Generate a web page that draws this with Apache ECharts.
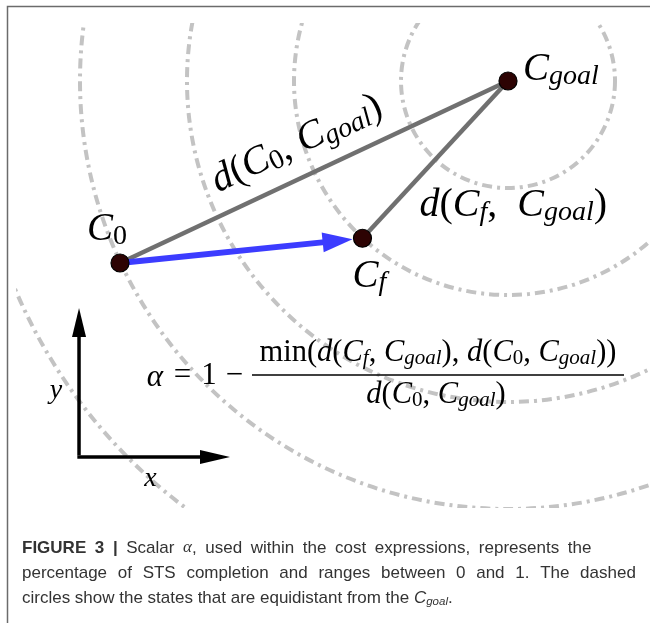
<!DOCTYPE html>
<html>
<head>
<meta charset="utf-8">
<script src="https://cdn.jsdelivr.net/npm/echarts@6.0.0/dist/echarts.min.js"></script>
<style>
  html, body { margin: 0; padding: 0; background: #fff; }
  #chart { width: 650px; height: 623px; }
</style>
</head>
<body>
<div id="chart"></div>
<script>
// Goal-centred frame: one unit is the spacing between neighbouring rings.
const goalPoint = [0, 0];
const startPoint = [-3.626, -1.701];   // C_0
const finalPoint = [-1.360, -1.470];   // C_f
const ringRadii = [1, 2, 3, 4, 5];

// Little x / y reference glyph in the lower-left corner
const axisOrigin = [-4.009, -3.514];
const axisXTip = [-2.598, -3.514];
const axisYTip = [-4.009, -2.121];

// Caption lines (words), typeset with justified-style word gaps
const captionLine1 = ['Scalar', 'α,', 'used', 'within', 'the', 'cost', 'expressions,', 'represents', 'the'];
const captionLine2 = ['percentage', 'of', 'STS', 'completion', 'and', 'ranges', 'between', '0', 'and', '1.', 'The', 'dashed'];
const captionLine3 = ['circles', 'show', 'the', 'states', 'that', 'are', 'equidistant', 'from', 'the'];

const SERIF = '"Liberation Serif", "DejaVu Serif", serif';
const SANS = '"Liberation Sans", Arial, sans-serif';

// rich-text styles for math: italic symbols, upright symbols, italic / upright subscripts
function mathRich(size, subSize, lineH, subH, key) {
  const c = '#000';
  const base = { fontFamily: SERIF, fontWeight: 'normal' };
  return {
    i: Object.assign({}, base, { fontStyle: 'italic', fontSize: size, lineHeight: lineH, verticalAlign: 'middle', [key]: c }),
    u: Object.assign({}, base, { fontStyle: 'normal', fontSize: size, lineHeight: lineH, verticalAlign: 'middle', [key]: c }),
    s: Object.assign({}, base, { fontStyle: 'italic', fontSize: subSize, lineHeight: subH, verticalAlign: 'bottom', [key]: c }),
    n: Object.assign({}, base, { fontStyle: 'normal', fontSize: subSize, lineHeight: subH, verticalAlign: 'bottom', [key]: c })
  };
}
const bigLabelRich = mathRich(39, 28, 41, 17, 'color');
const bigTextRich = mathRich(40, 28, 42, 18, 'fill');
const formulaRich = mathRich(30.5, 21, 32, 16, 'fill');

// caption styles; w1/w2/w3 are the word gaps of each line
const CAP = 17;
const captionRich = {
  b: { fontFamily: SANS, fontWeight: 'bold', fontSize: CAP, lineHeight: 20, verticalAlign: 'middle', fill: '#333' },
  t: { fontFamily: SANS, fontSize: CAP, lineHeight: 20, verticalAlign: 'middle', fill: '#333' },
  g: { fontFamily: SERIF, fontStyle: 'italic', fontSize: CAP, lineHeight: 20, verticalAlign: 'middle', fill: '#333' },
  c: { fontFamily: SANS, fontStyle: 'italic', fontSize: CAP, lineHeight: 20, verticalAlign: 'middle', fill: '#333' },
  s: { fontFamily: SANS, fontStyle: 'italic', fontSize: 11.5, lineHeight: 10, verticalAlign: 'bottom', fill: '#333' },
  w1: { fontFamily: SANS, fontSize: CAP, width: 8.6, lineHeight: 20 },
  w2: { fontFamily: SANS, fontSize: CAP, width: 10.7, lineHeight: 20 },
  w3: { fontFamily: SANS, fontSize: CAP, width: 4.7, lineHeight: 20 }
};
function captionWords(words, gap) {
  return words.map(w => w.startsWith('α') ? '{g|α}{t|' + w.slice(1) + '}' : '{t|' + w + '}').join('{' + gap + '| }');
}

const chart = echarts.init(document.getElementById('chart'), null, { renderer: 'canvas' });

function arrowParts(a, b, tipGap, headLen, headHalf, width, color) {
  const dx = b[0] - a[0], dy = b[1] - a[1];
  const len = Math.hypot(dx, dy);
  const ux = dx / len, uy = dy / len;
  const tip = [b[0] - ux * tipGap, b[1] - uy * tipGap];
  const base = [tip[0] - ux * headLen, tip[1] - uy * headLen];
  const nx = -uy, ny = ux;
  return [
    { type: 'line', shape: { x1: a[0], y1: a[1], x2: base[0] + ux * 2, y2: base[1] + uy * 2 },
      style: { stroke: color, lineWidth: width } },
    { type: 'polygon', shape: { points: [tip, [base[0] + nx * headHalf, base[1] + ny * headHalf], [base[0] - nx * headHalf, base[1] - ny * headHalf]] },
      style: { fill: color } }
  ];
}

const option = {
  animation: false,
  backgroundColor: '#fff',
  grid: { left: 16, right: 0, top: 23, bottom: 115 },
  xAxis: { type: 'value', min: -4.598, max: 1.327, show: false },
  yAxis: { type: 'value', min: -3.991, max: 0.542, show: false },
  series: [
    {
      // equidistant rings around the goal
      type: 'custom',
      clip: true,
      silent: true,
      z: 1,
      data: ringRadii.map(r => [goalPoint[0], goalPoint[1], r]),
      renderItem(params, api) {
        const c = api.coord([api.value(0), api.value(1)]);
        const e = api.coord([api.value(0) + api.value(2), api.value(1)]);
        return {
          type: 'circle',
          shape: { cx: c[0], cy: c[1], r: e[0] - c[0] },
          style: { fill: 'none', stroke: '#c3c3c3', lineWidth: 4, lineDash: [10, 5, 3, 5] }
        };
      }
    },
    {
      type: 'line', z: 2, silent: true, symbol: 'none',
      data: [startPoint, goalPoint],
      lineStyle: { color: '#707070', width: 4.5 }
    },
    {
      type: 'line', z: 2, silent: true, symbol: 'none',
      data: [finalPoint, goalPoint],
      lineStyle: { color: '#707070', width: 4.5 }
    },
    {
      // step from C_0 towards C_f
      type: 'custom', z: 3, silent: true,
      data: [[startPoint[0], startPoint[1]]],
      renderItem(params, api) {
        const a = api.coord(startPoint), b = api.coord(finalPoint);
        return { type: 'group', children: arrowParts(a, b, 10, 30, 10, 6, '#3c3cff') };
      }
    },
    {
      type: 'scatter', z: 5, silent: true,
      symbolSize: 18,
      itemStyle: { color: '#2d0303', borderColor: '#000', borderWidth: 1.2, opacity: 1 },
      label: { show: true, position: 'inside', color: '#000', rich: bigLabelRich },
      data: [
        { value: startPoint, label: { formatter: '{i|C}{n|0}', offset: [-13, -33] } },
        { value: finalPoint, label: { formatter: '{i|C}{s|f}', offset: [7, 38] } },
        { value: goalPoint, label: { formatter: '{i|C}{s|goal}', offset: [53, -11] } }
      ]
    },
    {
      // distance labels and the x / y reference glyph
      type: 'custom', z: 4, silent: true,
      data: [[goalPoint[0], goalPoint[1]]],
      renderItem(params, api) {
        const a = api.coord(startPoint), g = api.coord(goalPoint), f = api.coord(finalPoint);
        const ang = Math.atan2(a[1] - g[1], g[0] - a[0]);
        const off = 31;
        const mx = (a[0] + g[0]) / 2, my = (a[1] + g[1]) / 2;
        const o = api.coord(axisOrigin), tx = api.coord(axisXTip), ty = api.coord(axisYTip);
        const children = [
          {
            type: 'text', x: mx - Math.sin(ang) * off - 4, y: my - Math.cos(ang) * off, rotation: ang,
            style: { text: '{i|d}{u|(}{i|C}{n|0}{u|, }{i|C}{s|goal}{u|)}', rich: bigTextRich,
              align: 'center', verticalAlign: 'middle', fill: '#000', font: '40px ' + SERIF }
          },
          {
            type: 'text', x: (f[0] + g[0]) / 2 + 78, y: (f[1] + g[1]) / 2 + 46,
            style: { text: '{i|d}{u|(}{i|C}{s|f}{u|,  }{i|C}{s|goal}{u|)}', rich: bigTextRich,
              align: 'center', verticalAlign: 'middle', fill: '#000', font: '40px ' + SERIF }
          },
          { type: 'line', shape: { x1: o[0], y1: o[1] - 1.7, x2: o[0], y2: ty[1] + 25 }, style: { stroke: '#000', lineWidth: 3.5 } },
          { type: 'line', shape: { x1: o[0] - 1.7, y1: o[1], x2: tx[0] - 25, y2: o[1] }, style: { stroke: '#000', lineWidth: 3.5 } },
          { type: 'polygon', shape: { points: [ty, [ty[0] - 7, ty[1] + 29], [ty[0] + 7, ty[1] + 29]] }, style: { fill: '#000' } },
          { type: 'polygon', shape: { points: [tx, [tx[0] - 30, tx[1] - 7], [tx[0] - 30, tx[1] + 7]] }, style: { fill: '#000' } },
          { type: 'text', x: (o[0] + tx[0]) / 2 - 4, y: o[1] + 22,
            style: { text: 'x', font: 'italic 28px ' + SERIF, fill: '#000', align: 'center', verticalAlign: 'middle' } },
          { type: 'text', x: o[0] - 23, y: (o[1] + ty[1]) / 2 + 8,
            style: { text: 'y', font: 'italic 28px ' + SERIF, fill: '#000', align: 'center', verticalAlign: 'middle' } }
        ];
        return { type: 'group', children };
      }
    }
  ],
  graphic: [
    { type: 'rect', silent: true, z: 0, shape: { x: 7.5, y: 6.5, width: 900, height: 900 },
      style: { fill: 'none', stroke: '#6b6b6b', lineWidth: 1.5 } },
    // formula for alpha
    { type: 'text', z: 10, x: 155, y: 378, style: { text: 'α', font: 'italic 31px ' + SERIF, fill: '#000', align: 'center', verticalAlign: 'middle' } },
    { type: 'text', z: 10, x: 182.5, y: 376, style: { text: '=', font: '31px ' + SERIF, fill: '#000', align: 'center', verticalAlign: 'middle' } },
    { type: 'text', z: 10, x: 209, y: 376, style: { text: '1', font: '31px ' + SERIF, fill: '#000', align: 'center', verticalAlign: 'middle' } },
    { type: 'text', z: 10, x: 234.5, y: 376, style: { text: '−', font: '31px ' + SERIF, fill: '#000', align: 'center', verticalAlign: 'middle' } },
    { type: 'text', z: 10, x: 438, y: 353, style: {
        text: '{u|min(}{i|d}{u|(}{i|C}{s|f}{u|, }{i|C}{s|goal}{u|), }{i|d}{u|(}{i|C}{n|0}{u|, }{i|C}{s|goal}{u|))}',
        rich: formulaRich, font: '30px ' + SERIF, fill: '#000', align: 'center', verticalAlign: 'middle' } },
    { type: 'line', z: 10, shape: { x1: 252, y1: 375, x2: 624, y2: 375 }, style: { stroke: '#000', lineWidth: 1.4 } },
    { type: 'text', z: 10, x: 436, y: 395, style: {
        text: '{i|d}{u|(}{i|C}{n|0}{u|, }{i|C}{s|goal}{u|)}',
        rich: formulaRich, font: '30px ' + SERIF, fill: '#000', align: 'center', verticalAlign: 'middle' } },
    // caption
    { type: 'text', z: 10, x: 22, y: 548, style: {
        text: '{b|FIGURE}{w1| }{b|3}{w1| }{b||}{w1| }' + captionWords(captionLine1, 'w1'),
        rich: captionRich, font: CAP + 'px ' + SANS, fill: '#333', verticalAlign: 'middle' } },
    { type: 'text', z: 10, x: 22, y: 573, style: {
        text: captionWords(captionLine2, 'w2'),
        rich: captionRich, font: CAP + 'px ' + SANS, fill: '#333', verticalAlign: 'middle' } },
    { type: 'text', z: 10, x: 22, y: 598, style: {
        text: captionWords(captionLine3, 'w3') + '{w3| }{c|C}{s|goal}{t|.}',
        rich: captionRich, font: CAP + 'px ' + SANS, fill: '#333', verticalAlign: 'middle' } }
  ]
};
chart.setOption(option);
</script>
</body>
</html>
